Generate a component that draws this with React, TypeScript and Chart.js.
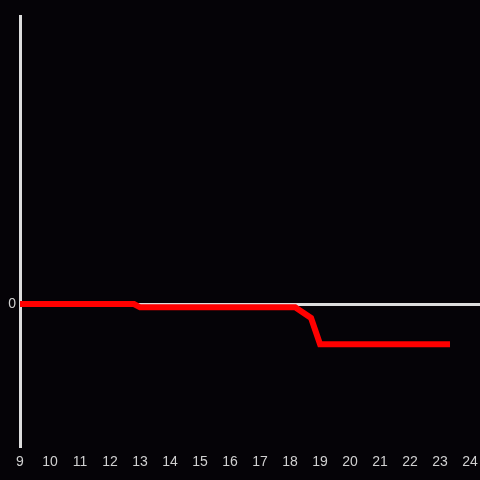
import React, { useEffect, useRef } from "react";
import { Chart, registerables } from "chart.js";

Chart.register(...registerables);

const xValues = [9, 12.8, 13, 18.17, 18.7, 19.0, 23.33];
const yValues = [0, 0, -0.023, -0.023, -0.097, -0.28, -0.28];
const xTickMin = 9;
const xTickMax = 24;

const bgPlugin = {
  id: "bg",
  beforeDraw(chart: any) {
    const ctx = chart.ctx;
    ctx.save();
    ctx.fillStyle = "#050307";
    ctx.fillRect(0, 0, chart.width, chart.height);
    ctx.restore();
  },
};

export default function App() {
  const ref = useRef<HTMLCanvasElement | null>(null);
  useEffect(() => {
    if (!ref.current) return;
    const chart = new Chart(ref.current, {
      type: "line",
      data: {
        datasets: [
          {
            data: xValues.map((x, i) => ({ x, y: yValues[i] })),
            borderColor: "#ff0000",
            borderWidth: 6,
            pointRadius: 0,
            tension: 0,
            fill: false,
          },
        ],
      },
      options: {
        animation: false,
        responsive: false,
        maintainAspectRatio: false,
        layout: { padding: { top: 16, left: 0, right: 0, bottom: 0 } },
        plugins: { legend: { display: false }, tooltip: { enabled: false } },
        scales: {
          x: {
            type: "linear",
            min: xTickMin,
            max: 24.33,
            grid: { display: false, drawTicks: false },
            border: { display: false },
            ticks: {
              stepSize: 1,
              includeBounds: false,
              color: "#d0d0d0",
              font: { family: "Liberation Sans, Arial, sans-serif", size: 14 },
              maxRotation: 0,
              autoSkip: false,
              padding: 6,
              callback: (v: any) => (v >= xTickMin && v <= xTickMax && Number.isInteger(v) ? String(v) : ""),
            },
            afterFit: (s: any) => {
              s.height = 32;
              s.paddingLeft = 0;
              s.paddingRight = 0;
            },
          },
          y: {
            type: "linear",
            min: -1,
            max: 2,
            grid: {
              drawTicks: false,
              color: (c: any) => (c.tick && c.tick.value === 0 ? "#dddddd" : "rgba(0,0,0,0)"),
              lineWidth: (c: any) => (c.tick && c.tick.value === 0 ? 3 : 0),
            },
            border: { display: true, color: "#dddddd", width: 3 },
            ticks: {
              stepSize: 1,
              color: "#d0d0d0",
              font: { family: "Liberation Sans, Arial, sans-serif", size: 14 },
              padding: 4,
              callback: (v: any) => (v === 0 ? "0" : ""),
            },
            afterFit: (s: any) => {
              s.width = 20;
              s.paddingTop = 0;
              s.paddingBottom = 0;
            },
          },
        },
      },
      plugins: [bgPlugin],
    });
    return () => chart.destroy();
  }, []);
  return (
    <div style={{ position: "fixed", left: 0, top: 0, width: 480, height: 480, background: "#050307" }}>
      <canvas ref={ref} width={480} height={480} style={{ display: "block" }} />
    </div>
  );
}
